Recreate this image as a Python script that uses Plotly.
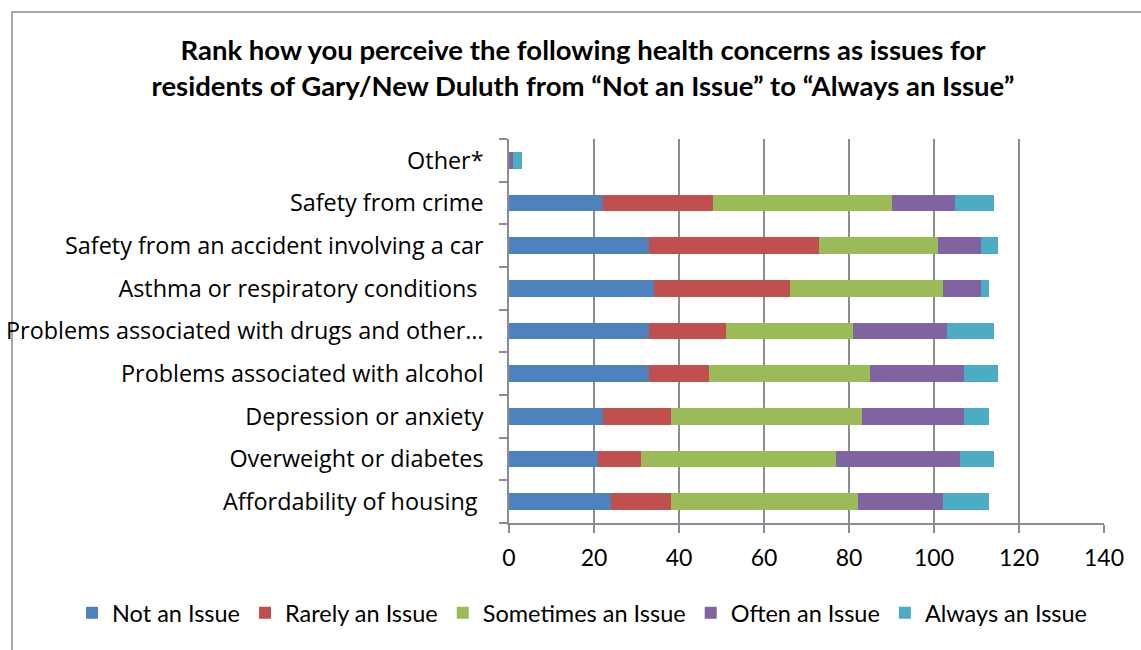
import plotly.graph_objects as go

categories = [
    "Affordability of housing ",
    "Overweight or diabetes",
    "Depression or anxiety",
    "Problems associated with alcohol",
    "Problems associated with drugs and other…",
    "Asthma or respiratory conditions ",
    "Safety from an accident involving a car",
    "Safety from crime",
    "Other*",
]
not_an_issue = [24, 21, 22, 33, 33, 34, 33, 22, 0]
rarely_an_issue = [14, 10, 16, 14, 18, 32, 40, 26, 0]
sometimes_an_issue = [44, 46, 45, 38, 30, 36, 28, 42, 0]
often_an_issue = [20, 29, 24, 22, 22, 9, 10, 15, 1]
always_an_issue = [11, 8, 6, 8, 11, 2, 4, 9, 2]

series = [
    ("Not an Issue", not_an_issue, "#4F81BD"),
    ("Rarely an Issue", rarely_an_issue, "#C0504D"),
    ("Sometimes an Issue", sometimes_an_issue, "#9BBB59"),
    ("Often an Issue", often_an_issue, "#8064A2"),
    ("Always an Issue", always_an_issue, "#4BACC6"),
]

CAL = "Lato, sans-serif"

fig = go.Figure()
for name, vals, color in series:
    fig.add_trace(go.Bar(
        y=categories, x=vals, name=name, orientation="h",
        marker=dict(color=color, line=dict(width=0)),
    ))

W, H = 1141, 650
L, R, T, B = 509, 37, 139, 127
pw, ph = W - L - R, H - T - B

fig.update_layout(
    width=W, height=H,
    barmode="stack", bargap=0.61,
    margin=dict(l=L, r=R, t=T, b=B, pad=0, autoexpand=False),
    paper_bgcolor="white", plot_bgcolor="white",
    title=dict(
        text="Rank how you perceive the following health concerns as issues for<br>residents of Gary/New Duluth from “Not an Issue” to “Always an Issue”",
        x=583 / W, xanchor="center", xref="container",
        y=1 - 60 / H, yanchor="middle", yref="container",
        font=dict(family=CAL, size=27.5, color="black", weight="bold"),
    ),
    xaxis=dict(
        range=[0, 140], dtick=20, tick0=0, automargin=False,
        showgrid=True, gridcolor="#8c8c8c", gridwidth=1.7,
        showline=True, linecolor="#8c8c8c", linewidth=1.5,
        ticks="outside", ticklen=8, tickcolor="#8c8c8c", tickwidth=1.5,
        tickfont=dict(family=CAL, size=23, color="black"),
        ticklabelstandoff=6,
        zeroline=False, fixedrange=True,
    ),
    yaxis=dict(
        automargin=False, fixedrange=True,
        showline=True, linecolor="#8c8c8c", linewidth=1.5,
        ticks="outside", ticklen=8, tickcolor="#8c8c8c", tickwidth=1.5,
        tickson="boundaries",
        tickfont=dict(family="Open Sans, sans-serif", size=23.4, color="black"),
        ticklabelstandoff=19,
        showgrid=False,
    ),
    legend=dict(
        orientation="h", x=(72 - L) / pw, xanchor="left", xref="paper",
        y=(H - B - 613) / ph, yanchor="middle", yref="paper",
        font=dict(family=CAL, size=23.5, color="black"),
        itemwidth=30, traceorder="normal", bgcolor="rgba(0,0,0,0)",
    ),
    showlegend=True,
    shapes=[dict(
        type="rect", xref="paper", yref="paper",
        x0=(12 - L) / pw, x1=(1200 - L) / pw,
        y0=(H - B - 700) / ph, y1=(H - B - 12) / ph,
        line=dict(color="#8c8c8c", width=1.5), fillcolor="rgba(0,0,0,0)",
        layer="below",
    )],
)

fig.write_html("out.html", config={"displayModeBar": False},
               post_script="document.body.style.margin='0px';")
